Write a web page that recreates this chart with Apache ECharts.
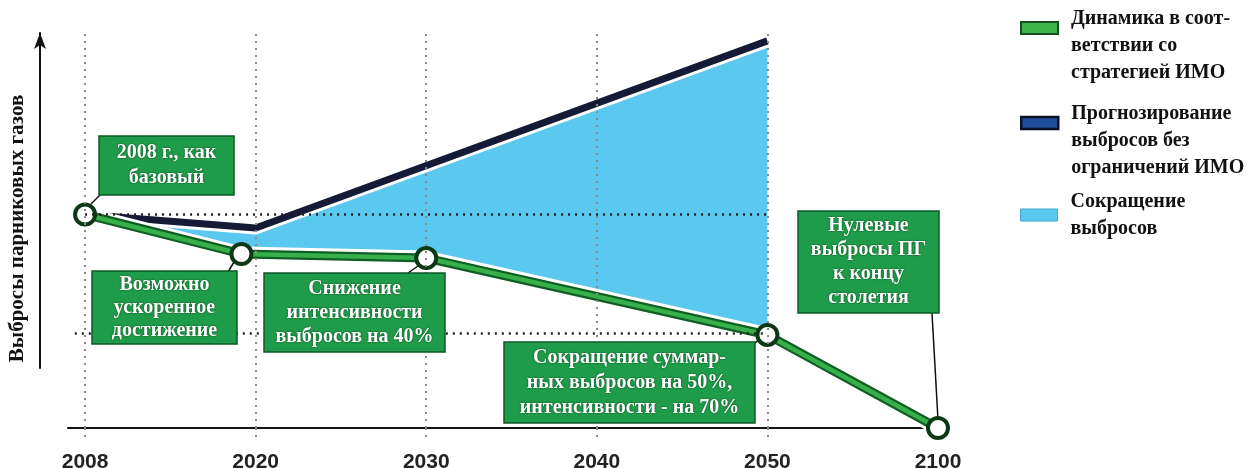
<!DOCTYPE html>
<html>
<head>
<meta charset="utf-8">
<script src="https://cdn.jsdelivr.net/npm/echarts@6/dist/echarts.min.js"></script>
<style>
html,body{margin:0;padding:0;background:#fff;}
#chart{width:1253px;height:468px;}
</style>
</head>
<body>
<div id="chart"></div>
<script>
// ---- data ----
var tickYears = [2008, 2020, 2030, 2040, 2050, 2100];
var tickLabels = ['2008', '2020', '2030', '2040', '2050', '2100'];
var greenYears = [2008, 2019, 2030, 2050, 2100];
var greenValues = [100, 81.5, 79.6, 43.6, 0];
var blackYears = [2008, 2020, 2050];
var blackValues = [100, 93.7, 181.3];
var baseLevel = 100;
var targetLevel = 44.5;
var gridYears = [2008, 2020, 2030, 2040, 2050];

var NAME_GREEN = 'Динамика в соответствии со стратегией ИМО';
var NAME_BLACK = 'Прогнозирование выбросов без ограничений ИМО';
var NAME_BLUE = 'Сокращение выбросов';

// axis position of a year: ticks are evenly spaced (piecewise-linear scale)
function yearToPos(y) {
  for (var i = 0; i < tickYears.length - 1; i++) {
    if (y <= tickYears[i + 1]) {
      return i + (y - tickYears[i]) / (tickYears[i + 1] - tickYears[i]);
    }
  }
  return tickYears.length - 1;
}
function pairs(years, vals) {
  return years.map(function (y, i) { return [yearToPos(y), vals[i]]; });
}

var SERIF = '"Liberation Serif", "DejaVu Serif", serif';
var boxFill = '#1f9c49';
var boxStroke = '#0d5a27';

function box(x, y, w, h, text, lh) {
  return {
    type: 'group',
    children: [
      { type: 'rect', z: 100, shape: { x: x, y: y, width: w, height: h },
        style: { fill: boxFill, stroke: boxStroke, lineWidth: 1.5 } },
      { type: 'text', z: 101, x: x + w / 2, y: y + h / 2,
        style: { text: text, fill: '#fff', font: 'bold 20px ' + SERIF,
          align: 'center', verticalAlign: 'middle', lineHeight: lh,
          textShadowColor: 'rgba(0,40,10,0.8)', textShadowBlur: 2 } }
    ]
  };
}
function conn(x1, y1, x2, y2) {
  return { type: 'line', z: 1, shape: { x1: x1, y1: y1, x2: x2, y2: y2 },
    style: { stroke: '#111', lineWidth: 1.5 } };
}

var chart = echarts.init(document.getElementById('chart'), null, { renderer: 'canvas' });

var legendText = {
  fontFamily: SERIF, fontWeight: 'bold', fontSize: 20, color: '#111', lineHeight: 27,
  padding: [0, 0, 0, 8],
  rich: { sp: { fontSize: 6, lineHeight: 36, height: 36 } }
};

var option = {
  animation: false,
  backgroundColor: '#fff',
  grid: [
    { left: 68, right: 315, top: 33, bottom: 40, outerBoundsMode: 'none', containLabel: false },
    { left: 40, width: 1, top: 33, bottom: 100, outerBoundsMode: 'none', containLabel: false }
  ],
  legend: [
    { orient: 'vertical', left: 1020, top: -30.5, itemWidth: 37, itemHeight: 12, padding: 0,
      selectedMode: false,
      data: [{ name: NAME_GREEN, icon: 'rect',
        itemStyle: { color: '#3db54a', borderColor: '#174d22', borderWidth: 2 } }],
      formatter: function () { return '{sp| }\nДинамика в соот-\nветствии со\nстратегией ИМО'; },
      textStyle: legendText },
    { orient: 'vertical', left: 1020, top: 64.5, itemWidth: 37, itemHeight: 12, padding: 0,
      selectedMode: false,
      data: [{ name: NAME_BLACK, icon: 'rect',
        itemStyle: { color: '#1f4e9c', borderColor: '#0a1024', borderWidth: 2.5 } }],
      formatter: function () { return '{sp| }\nПрогнозирование\nвыбросов без\nограничений ИМО'; },
      textStyle: legendText },
    { orient: 'vertical', left: 1020, top: 188, itemWidth: 37, itemHeight: 12, padding: 0,
      selectedMode: false,
      data: [{ name: NAME_BLUE, icon: 'rect',
        itemStyle: { color: '#5bc8ef', borderColor: '#3fa6cf', borderWidth: 1 } }],
      formatter: function () { return 'Сокращение\nвыбросов'; },
      textStyle: legendText }
  ],
  xAxis: [
    { type: 'value', gridIndex: 0, min: -0.1, max: tickYears.length - 1,
      axisLine: { show: true, lineStyle: { color: '#111', width: 2 } },
      axisTick: { show: true, customValues: gridYears.map(yearToPos), length: 12,
        lineStyle: { color: '#888', width: 2, type: [2, 5] } },
      axisLabel: { show: true, customValues: tickYears.map(yearToPos), margin: 24,
        formatter: function (v) { return tickLabels[Math.round(v)]; },
        fontFamily: '"Liberation Sans Narrow", "Liberation Sans", sans-serif',
        fontWeight: 'bold', fontSize: 21, color: '#222' },
      splitLine: { show: false } },
    { type: 'value', gridIndex: 1, show: false }
  ],
  yAxis: [
    { type: 'value', gridIndex: 0, min: 0, max: 185, show: false, splitLine: { show: false } },
    { type: 'value', gridIndex: 1, min: 0, max: 1,
      axisLine: { show: true, symbol: ['none', 'arrow'], symbolSize: [9, 16],
        lineStyle: { color: '#111', width: 2 } },
      axisTick: { show: false }, axisLabel: { show: false }, splitLine: { show: false },
      name: 'Выбросы парниковых газов', nameLocation: 'middle', nameGap: 12, nameRotate: 90,
      nameTextStyle: { fontFamily: SERIF, fontWeight: 'bold', fontSize: 21, color: '#111',
        padding: [0, 56, 0, 0] } }
  ],
  series: [
    { name: NAME_BLUE, type: 'custom', z: 1, color: '#5bc8ef',
      data: [[0, 0]],
      renderItem: function (params, api) {
        var pts = [];
        for (var i = 0; i < blackYears.length; i++) {
          pts.push(api.coord([yearToPos(blackYears[i]), blackValues[i]]));
        }
        for (var j = greenYears.length - 1; j >= 0; j--) {
          if (greenYears[j] <= blackYears[blackYears.length - 1]) {
            pts.push(api.coord([yearToPos(greenYears[j]), greenValues[j]]));
          }
        }
        return { type: 'polygon', shape: { points: pts }, style: { fill: '#5bc8ef' } };
      } },
    { name: 'grid', type: 'line', z: 2, data: [], silent: true,
      markLine: { silent: true, symbol: 'none', label: { show: false },
        lineStyle: { color: '#8a8a8a', width: 2, type: [2, 5] },
        data: gridYears.map(function (y) { return { xAxis: yearToPos(y) }; }) } },
    { name: 'levels', type: 'line', z: 2, data: [], silent: true,
      markLine: { silent: true, symbol: 'none', label: { show: false },
        lineStyle: { color: '#222', width: 2.5, type: [2, 5] },
        data: [
          [{ coord: [yearToPos(2008), baseLevel] }, { coord: [yearToPos(2050), baseLevel] }],
          [{ coord: [-0.06, targetLevel] }, { coord: [yearToPos(2050), targetLevel] }]
        ] } },
    { name: 'blackUnder', type: 'line', z: 3, silent: true, symbol: 'none',
      data: pairs(blackYears, blackValues),
      lineStyle: { color: '#fff', width: 13 } },
    { name: NAME_BLACK, type: 'line', z: 3, symbol: 'none', color: '#151a36',
      data: pairs(blackYears, blackValues),
      lineStyle: { color: '#151a36', width: 7 } },
    { name: 'greenUnder', type: 'line', z: 3, silent: true, symbol: 'none',
      data: pairs(greenYears, greenValues),
      lineStyle: { color: '#fff', width: 15 } },
    { name: NAME_GREEN, type: 'line', z: 3, symbol: 'none', color: '#3db54a',
      data: pairs(greenYears, greenValues),
      lineStyle: { color: '#0f5e24', width: 9 } },
    { name: NAME_GREEN, type: 'line', z: 4, color: '#3db54a',
      data: pairs(greenYears, greenValues),
      lineStyle: { color: '#38b04a', width: 4.5 },
      symbol: 'circle', symbolSize: 20,
      itemStyle: { color: '#fff', borderColor: '#0c3816', borderWidth: 4 } }
  ],
  graphic: [
    conn(101, 194, 91, 204),
    conn(228, 272, 234, 262),
    conn(408, 273, 418, 266),
    conn(755, 343, 760, 339),
    conn(932, 313, 938, 420),
    box(99, 136, 135, 59, '2008 г., как\nбазовый', 25),
    box(92, 271, 145, 73, 'Возможно\nускоренное\nдостижение', 23),
    box(264, 273, 181, 79, 'Снижение\nинтенсивности\nвыбросов на 40%', 24),
    box(504, 342, 251, 81, 'Сокращение суммар-\nных выбросов на 50%,\nинтенсивности - на 70%', 25),
    box(798, 211, 141, 102, 'Нулевые\nвыбросы ПГ\nк концу\nстолетия', 24)
  ]
};
chart.setOption(option);
</script>
</body>
</html>
